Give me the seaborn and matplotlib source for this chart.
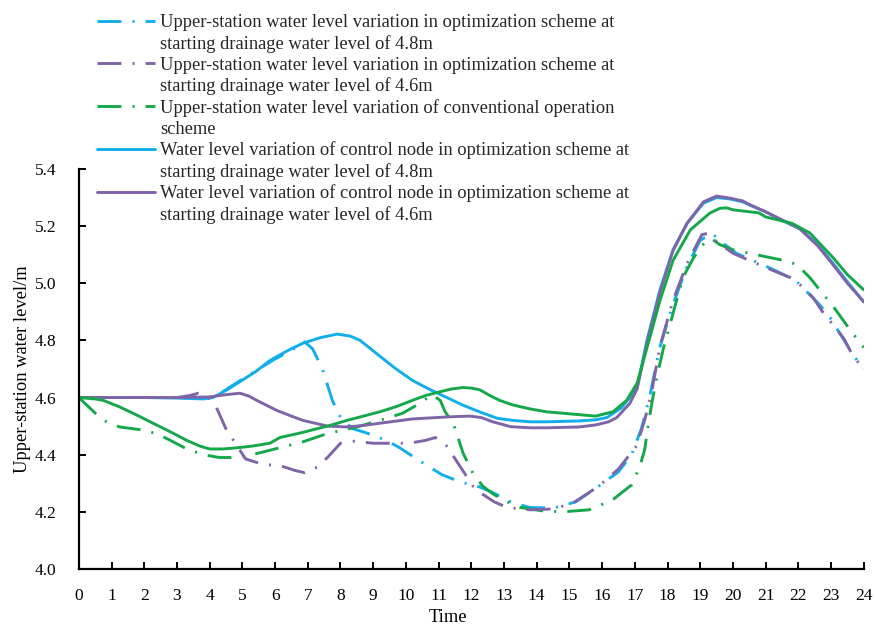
import matplotlib
matplotlib.use("Agg")
import matplotlib.pyplot as plt
from matplotlib.lines import Line2D
import numpy as np
import pandas as pd
import seaborn as sns

# ---- data: water level (m) against time (h) ----
t_up48 = [0, 1, 2, 3, 3.8, 4.2, 4.8, 5.5, 6.0, 6.5, 6.9, 7.15, 7.45, 7.75, 8.05, 8.4, 8.8, 9.4,
          9.8, 10.4, 11.1, 11.65, 12.25, 12.7, 13.25, 13.8, 14.5, 15.2, 15.9, 16.5, 16.9, 17.2,
          17.45, 17.75, 18.15, 18.6, 19.0, 19.35, 19.7, 20.1, 20.6, 21.0, 21.65, 22.0, 22.65,
          23.0, 23.4, 23.7, 24.0]
h_up48 = [4.60, 4.60, 4.60, 4.60, 4.598, 4.605, 4.65, 4.70, 4.735, 4.765, 4.795, 4.77, 4.70, 4.59,
          4.52, 4.49, 4.476, 4.45, 4.425, 4.38, 4.33, 4.305, 4.287, 4.265, 4.232, 4.215, 4.213,
          4.235, 4.29, 4.34, 4.40, 4.49, 4.60, 4.77, 4.92, 5.06, 5.15, 5.175, 5.14, 5.105, 5.08,
          5.06, 5.025, 5.00, 4.925, 4.875, 4.80, 4.745, 4.70]

t_up46 = [0, 1, 2, 3, 3.4, 3.65, 3.9, 4.15, 4.5, 4.7, 5.1, 5.6, 6.2, 6.6, 6.9, 7.3, 7.6, 8.0, 8.4,
          9.0, 9.6, 10.1, 10.6, 10.9, 11.25, 11.65, 12.05, 12.3, 12.7, 13.1, 13.8, 14.5, 15.1,
          15.9, 16.5, 17.05, 17.3, 17.5, 17.77, 18.17, 18.6, 19.05, 19.25, 19.5, 20.0, 20.3,
          21.0, 21.75, 22.1, 22.45, 22.8, 23.1, 23.4, 23.67, 24.0]
h_up46 = [4.60, 4.60, 4.60, 4.60, 4.607, 4.615, 4.605, 4.58, 4.49, 4.455, 4.385, 4.367, 4.36,
          4.345, 4.337, 4.357, 4.39, 4.44, 4.447, 4.44, 4.44, 4.44, 4.45, 4.46, 4.43, 4.36,
          4.29, 4.265, 4.235, 4.215, 4.207, 4.21, 4.23, 4.29, 4.35, 4.43, 4.52, 4.61, 4.78,
          4.94, 5.07, 5.17, 5.175, 5.145, 5.105, 5.09, 5.055, 5.02, 4.99, 4.95, 4.89, 4.85,
          4.805, 4.745, 4.70]

t_up_conv = [0, 0.55, 0.85, 1.25, 1.9, 2.4, 2.8, 3.3, 3.8, 4.3, 4.8, 5.3, 6.0, 6.8, 7.6, 8.5,
             9.2, 9.9, 10.4, 10.8, 11.05, 11.2, 11.45, 11.75, 12.05, 12.35, 12.7, 13.1, 13.5,
             14.2, 14.8, 15.6, 16.3, 16.9, 17.15, 17.3, 17.4, 17.52, 17.67, 17.87, 18.17,
             18.47, 18.8, 19.15, 19.35, 19.6, 20.0, 21.0, 21.75, 22.0, 22.35, 22.7, 23.06,
             23.58, 24.0]
h_up_conv = [4.60, 4.54, 4.515, 4.497, 4.487, 4.473, 4.45, 4.42, 4.40, 4.39, 4.39, 4.40, 4.42,
             4.443, 4.474, 4.497, 4.52, 4.545, 4.578, 4.61, 4.59, 4.55, 4.51, 4.405, 4.335,
             4.29, 4.26, 4.235, 4.215, 4.203, 4.20, 4.207, 4.24, 4.294, 4.357, 4.417, 4.497,
             4.58, 4.67, 4.77, 4.895, 5.02, 5.09, 5.145, 5.155, 5.135, 5.117, 5.093, 5.075,
             5.06, 5.02, 4.97, 4.92, 4.837, 4.775]

t_node48 = [0, 2, 3.0, 3.8, 4.1, 4.5, 4.85, 5.4, 5.85, 6.4, 6.85, 7.4, 7.9, 8.3, 8.6, 9.2, 9.7,
            10.2, 10.7, 11.25, 11.75, 12.25, 12.8, 13.27, 13.8, 14.3, 15.3, 15.8, 16.15, 16.6,
            16.95, 17.1, 17.37, 17.77, 18.17, 18.6, 19.1, 19.5, 19.9, 20.3, 20.5, 21.0, 21.5,
            22.05, 22.6, 23.06, 23.5, 24.0]
h_node48 = [4.60, 4.60, 4.598, 4.595, 4.60, 4.625, 4.65, 4.69, 4.73, 4.765, 4.79, 4.81, 4.822,
            4.815, 4.80, 4.745, 4.70, 4.66, 4.63, 4.60, 4.573, 4.55, 4.527, 4.52, 4.515, 4.515,
            4.518, 4.522, 4.53, 4.565, 4.615, 4.65, 4.80, 4.977, 5.117, 5.21, 5.28, 5.30, 5.295,
            5.285, 5.274, 5.25, 5.22, 5.19, 5.135, 5.07, 5.005, 4.935]

t_node46 = [0, 2, 3, 4.0, 4.5, 4.93, 5.2, 5.44, 6.05, 6.5, 6.85, 7.15, 7.6, 8.2, 8.7, 9.2, 10.2,
            11.25, 11.95, 12.3, 12.66, 13.2, 13.8, 14.3, 15.3, 15.8, 16.2, 16.45, 16.85, 17.07,
            17.37, 17.77, 18.17, 18.6, 19.1, 19.5, 19.9, 20.3, 20.5, 21.0, 21.5, 22.05, 22.6,
            23.06, 23.5, 24.0]
h_node46 = [4.60, 4.60, 4.60, 4.602, 4.61, 4.615, 4.605, 4.59, 4.555, 4.535, 4.52, 4.512, 4.50,
            4.497, 4.502, 4.51, 4.525, 4.532, 4.535, 4.53, 4.515, 4.498, 4.494, 4.494, 4.497,
            4.504, 4.515, 4.53, 4.58, 4.63, 4.79, 4.97, 5.115, 5.21, 5.285, 5.305, 5.298, 5.288,
            5.276, 5.25, 5.222, 5.19, 5.13, 5.065, 5.0, 4.935]

t_node_conv = [0, 0.5, 0.75, 1.25, 1.8, 2.27, 2.8, 3.3, 3.7, 4.0, 4.4, 4.83, 5.3, 5.84, 6.15,
               6.85, 7.15, 7.7, 8.2, 8.7, 9.2, 9.7, 10.2, 10.6, 11.04, 11.4, 11.75, 12.0, 12.26,
               12.6, 12.87, 13.27, 13.8, 14.3, 14.8, 15.3, 15.8, 16.33, 16.75, 17.07, 17.46,
               17.77, 18.17, 18.7, 19.3, 19.6, 19.8, 20.0, 20.8, 21.0, 21.8, 22.35, 23.06, 23.5,
               24.0]
h_node_conv = [4.60, 4.595, 4.59, 4.567, 4.537, 4.51, 4.48, 4.45, 4.43, 4.42, 4.42, 4.424, 4.43,
               4.44, 4.46, 4.478, 4.487, 4.503, 4.52, 4.535, 4.55, 4.568, 4.59, 4.607, 4.62,
               4.63, 4.635, 4.633, 4.627, 4.605, 4.59, 4.574, 4.56, 4.55, 4.545, 4.54, 4.535,
               4.55, 4.59, 4.65, 4.81, 4.94, 5.08, 5.187, 5.246, 5.262, 5.264, 5.257, 5.246,
               5.232, 5.21, 5.176, 5.09, 5.03, 4.977]

legend_lines = [
    ("Upper-station water level variation in optimization scheme at",
     "starting drainage water level of 4.8m"),
    ("Upper-station water level variation in optimization scheme at",
     "starting drainage water level of 4.6m"),
    ("Upper-station water level variation of conventional operation",
     "scheme"),
    ("Water level variation of control node in optimization scheme at",
     "starting drainage water level of 4.8m"),
    ("Water level variation of control node in optimization scheme at",
     "starting drainage water level of 4.6m"),
]

x_ticks = list(range(0, 25))
y_ticks = [4.0, 4.2, 4.4, 4.6, 4.8, 5.0, 5.2, 5.4]

BLUE = "#12AEEA"
PURPLE = "#8064A8"
GREEN = "#14A84A"

sns.set_theme(style="ticks")
plt.rcParams["font.family"] = ["Liberation Serif", "DejaVu Serif"]
plt.rcParams["axes.linewidth"] = 1.6

fig = plt.figure(figsize=(8.76, 6.28), dpi=100)
ax = fig.add_axes([0.090, 0.094, 0.896, 0.637])

LW = 2.1
DASHDOT = (8.2, 3.8, 0.7, 3.8)

series = [
    ("up48", t_up48, h_up48, BLUE, True),
    ("node48", t_node48, h_node48, BLUE, False),
    ("upconv", t_up_conv, h_up_conv, GREEN, True),
    ("up46", t_up46, h_up46, PURPLE, True),
    ("node46", t_node46, h_node46, PURPLE, False),
    ("nodeconv", t_node_conv, h_node_conv, GREEN, False),
]
drawn = {}
for key, tx, hy, col, dashed in series:
    df = pd.DataFrame({"Time": tx, "Level": hy})
    sns.lineplot(data=df, x="Time", y="Level", color=col, linewidth=LW, ax=ax,
                 sort=False, estimator=None)
    line = ax.lines[-1]
    if dashed:
        line.set_dashes(DASHDOT)
    drawn[key] = line

ax.set_xlim(0, 24)
ax.set_ylim(4.0, 5.4)
ax.set_xticks(x_ticks)
ax.set_yticks(y_ticks)
ax.set_yticklabels([f"{v:.1f}" for v in y_ticks])
ax.tick_params(axis="x", direction="in", length=5, width=1.4, pad=14, labelsize=12.5,
               colors="black")
ax.tick_params(axis="y", direction="in", length=5, width=1.4, pad=16, labelsize=12.5,
               colors="black")
for side in ("top", "right"):
    ax.spines[side].set_visible(False)
for side in ("left", "bottom"):
    ax.spines[side].set_color("black")

ax.set_xlabel("Time", fontsize=13.3, color="black")
ax.set_ylabel("Upper-station water level/m", fontsize=13.3, color="black")
ax.xaxis.set_label_coords(0.47, -0.1)
ax.yaxis.set_label_coords(-0.061, 0.50)

# legend: one row per text line, the handle sits on the first line of each entry
blank = Line2D([], [], color="none")
handles, labels = [], []
for key, (first, second) in zip(["up48", "up46", "upconv", "node48", "node46"], legend_lines):
    handles += [drawn[key], blank]
    labels += [first, second]
fig.legend(handles, labels, loc="upper left", bbox_to_anchor=(0.1107, 0.977),
           frameon=False, fontsize=13.3, handlelength=3.14, handletextpad=0.27,
           labelspacing=0.2, borderpad=0.0, borderaxespad=0.0)

fig.savefig("out.png", dpi=100, facecolor="white")
